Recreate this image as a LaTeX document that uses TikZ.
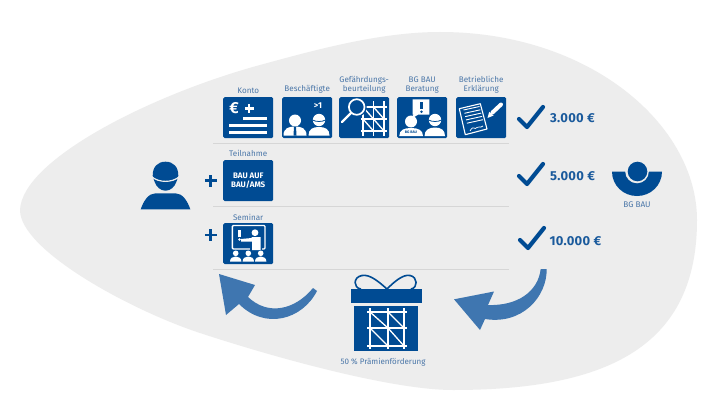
\documentclass[tikz,border=0pt]{standalone}
\usepackage{fontspec}
\setmainfont{Fira Sans}
\definecolor{bgblue}{HTML}{004B93}
\definecolor{arrowblue}{HTML}{3F76B0}
\definecolor{blobgrey}{HTML}{EDEDED}
\definecolor{rulegrey}{HTML}{D6D6D6}
\definecolor{labelblue}{HTML}{4A76A8}
\definecolor{amountblue}{HTML}{1A5A9C}
\tikzset{
  x=1pt,y=-1pt,
  iconbox/.style={fill=bgblue,draw=none,rounded corners=1.5pt,minimum width=50pt,minimum height=41pt,inner sep=0pt,anchor=north west},
  captext/.style={text=labelblue,font=\fontsize{8.1}{9.5}\selectfont,align=center,anchor=south,inner sep=0pt},
  amount/.style={text=amountblue,font=\fontsize{13}{15}\selectfont\bfseries\addfontfeature{LetterSpace=2},anchor=west,inner sep=0pt},
  plussign/.style={draw=bgblue,line width=2.6pt},
  seprule/.style={draw=rulegrey,line width=.7pt},
  wl/.style={draw=white,line width=1.3pt},
  chk/.style={draw=bgblue,line width=4.2pt,line cap=round,line join=round},
}
\newcommand{\chkmark}[2]{\draw[chk,shift={(#1,#2)}] (1,1) -- (9,9) -- (25,-11);}
\begin{document}
\begin{tikzpicture}
\useasboundingbox (0,0) rectangle (720,420);
\fill[white] (0,0) rectangle (720,420);
% background blob
\fill[blobgrey] (20,210)
  .. controls (22,160) and (150,95) .. (260,65)
  .. controls (315,50) and (380,32) .. (440,32)
  .. controls (590,32) and (697,125) .. (697,220)
  .. controls (697,345) and (610,390) .. (453,390)
  .. controls (390,390) and (270,356) .. (200,333)
  .. controls (130,310) and (20,250) .. (20,210) -- cycle;
% separators
\coordinate (s1a) at (213,143); \coordinate (s1b) at (509,143);
\coordinate (s2a) at (213,206); \coordinate (s2b) at (509,206);
\coordinate (s3a) at (213,269); \coordinate (s3b) at (509,269);
\draw[seprule] (s1a) -- (s1b);
\draw[seprule] (s2a) -- (s2b);
\draw[seprule] (s3a) -- (s3b);
% icon boxes
\node[iconbox] (konto) at (223,97) {};
\node[iconbox] (besch) at (282,97) {};
\node[iconbox] (gef) at (339,97) {};
\node[iconbox] (ber) at (397,97) {};
\node[iconbox] (erk) at (456,97) {};
\node[iconbox,align=center,text=white,font=\fontsize{8}{9.4}\selectfont\bfseries] (teil) at (223,160) {BAU AUF\\BAU/AMS};
\node[iconbox] (sem) at (223,223) {};
% captions
\node[captext] (c1) at (konto.north) [yshift=3.5pt] {Konto};
\node[captext] (c2) at (besch.north) [yshift=3.5pt] {Beschäftigte};
\node[captext] (c3) at (gef.north) [yshift=3.5pt] {Gefährdungs-\\beurteilung};
\node[captext] (c4) at (ber.north) [yshift=3.5pt] {BG BAU\\Beratung};
\node[captext] (c5) at (erk.north) [yshift=3.5pt] {Betriebliche\\Erklärung};
\node[captext] (c6) at (teil.north) [yshift=3pt] {Teilnahme};
\node[captext] (c7) at (sem.north) [yshift=2pt] {Seminar};
% Konto icon
\begin{scope}[shift={(223,97)}]
\node[text=white,font=\fontsize{16}{16}\selectfont\bfseries,inner sep=0pt] (euro) at (11,10.7) {€};
\draw[white,line width=2.2pt] (21.8,11.5) -- (30.8,11.5) (26.3,7) -- (26.3,16);
\fill[white] (19.7,20) rectangle (44.3,23.3);
\fill[white] (6.3,27) rectangle (44.3,30.3);
\fill[white] (6.3,34) rectangle (44.3,37.3);
\end{scope}
% Beschaeftigte icon
\begin{scope}[shift={(282,97)}]
\node[text=white,font=\fontsize{8.5}{8.5}\selectfont\bfseries,inner sep=0pt] (gt) at (36,8.5) {>1};
\fill[white] (13,23.5) circle (6);
\fill[white] (1.5,38.5) .. controls (1.5,31) and (7,29.5) .. (13,29.5) .. controls (19,29.5) and (24.5,31) .. (24.5,38.5) -- cycle;
\fill[bgblue] (12,29.5) -- (14,29.5) -- (14.5,38.5) -- (11.5,38.5) -- cycle;
\fill[white] (37,23) circle (6.2);
\draw[bgblue,line width=.8pt] (30.5,23) .. controls (34,25) and (40,25) .. (43.5,23);
\fill[white] (26.5,38.5) .. controls (26.5,32) and (31,30) .. (37,30) .. controls (43,30) and (47.5,32) .. (47.5,38.5) -- cycle;
\end{scope}
% Gefaehrdung icon
\begin{scope}[shift={(339,97)}]
\foreach \xx in {24,34.5,45} \draw[wl] (\xx,4) -- (\xx,38.5);
\foreach \yy in {10,22,34} \draw[wl] (22,\yy) -- (48,\yy);
\draw[wl] (24,22) -- (34.5,34) (34.5,22) -- (45,34) (24,10) -- (34.5,22) (34.5,10) -- (45,22);
\fill[bgblue] (17.7,10) circle (10);
\draw[white,line width=1.7pt] (17.7,10) circle (7.8);
\draw[white,line width=2.2pt,line cap=round] (12,16) -- (3,25);
\end{scope}
% Beratung icon
\begin{scope}[shift={(397,97)}]
\fill[white] (15.7,2.3) -- (32.3,2.3) -- (32.3,17.7) -- (21,17.7) -- (14,22) -- (16.5,17.7) -- (15.7,17.7) -- cycle;
\fill[bgblue] (23.2,5) rectangle (25.8,12);
\fill[bgblue] (24.5,14.8) circle (1.4);
\fill[white] (14,24.5) circle (6);
\fill[white] (2.3,39) .. controls (2.3,33) and (7,31) .. (14,31) .. controls (21,31) and (26,33) .. (26,39) -- cycle;
\node[text=bgblue,font=\fontsize{3.6}{3.6}\selectfont\bfseries,inner sep=0pt] (bgb) at (14,35.5) {BG BAU};
\fill[white] (38,23) circle (6.2);
\draw[bgblue,line width=.8pt] (31.5,23) .. controls (35,25) and (41,25) .. (44.5,23);
\fill[white] (27.5,39) .. controls (27.5,33) and (32,30.5) .. (38,30.5) .. controls (44,30.5) and (48,33) .. (48,39) -- cycle;
\end{scope}
% Erklaerung icon
\begin{scope}[shift={(456,97)}]
\draw[white,line width=1.1pt,line join=round] (3.3,11.7) -- (24.3,6.7) -- (31,32) -- (9.3,37.7) -- cycle;
\foreach \t in {0,1,2,3,4} \draw[white,line width=.9pt] ({7.5+\t*.85},{13+\t*3.3}) -- ({23.5+\t*.85},{9.5+\t*3.3});
\draw[white,line width=.7pt] (14,34) .. controls (18,27) and (18,34) .. (21,30.5) .. controls (23,28) and (23,32) .. (27,29);
\draw[white,line width=4pt,line cap=round] (36.5,15.5) -- (45,7.5);
\fill[white] (31.5,21) -- (33.2,14.8) -- (37.6,18.5) -- cycle;
\end{scope}
% Seminar icon
\begin{scope}[shift={(223,223)}]
\draw[white,line width=1.4pt,rounded corners=1pt] (9.3,2.5) rectangle (42,26);
\fill[white] (15.2,7) rectangle (17.6,13.5);
\fill[white] (16.4,16.5) circle (1.4);
\fill[bgblue] (27,12) rectangle (39,28);
\fill[white] (32,9.7) circle (3.4);
\fill[white] (28.7,14) -- (37.7,14) -- (37.7,27) -- (29,27) -- (29,18.5) -- (18,18.5) -- (18,16) -- (28.7,15) -- cycle;
\foreach \xx in {12.7,25.3,37.7} {
  \fill[white] (\xx,30.3) circle (2.8);
  \fill[white] ({\xx-5.7},38.7) .. controls ({\xx-5.7},35) and ({\xx-3},33.5) .. (\xx,33.5) .. controls ({\xx+3},33.5) and ({\xx+5.7},35) .. ({\xx+5.7},38.7) -- cycle;
}
\end{scope}
% worker
\begin{scope}[shift={(165.5,175)}]
\fill[bgblue] (-12.8,1) .. controls (-13,-8) and (-8,-13.3) .. (0,-13.3) .. controls (8,-13.3) and (13,-8) .. (12.8,1) .. controls (12.5,4) and (11,5) .. (10.8,7) .. controls (9,12) and (5,15.7) .. (0,15.7) .. controls (-5,15.7) and (-9,12) .. (-10.8,7) .. controls (-11,5) and (-12.5,4) .. (-12.8,1) -- cycle;
\draw[blobgrey,line width=1.2pt] (-14,1.5) .. controls (-7,8) and (7,8) .. (14,1.5);
\fill[bgblue] (-24.8,34.3) .. controls (-22,26) and (-17,18.3) .. (-10,18.3) -- (10,18.3) .. controls (17,18.3) and (22,26) .. (24.8,34.3) -- cycle;
\end{scope}
\coordinate (p1c) at (210.7,180.7);
\coordinate (p2c) at (210.7,235);
\draw[plussign] ([xshift=-5.8pt]p1c) -- ([xshift=5.8pt]p1c) ([yshift=-5.8pt]p1c) -- ([yshift=5.8pt]p1c);
\draw[plussign] ([xshift=-5.8pt]p2c) -- ([xshift=5.8pt]p2c) ([yshift=-5.8pt]p2c) -- ([yshift=5.8pt]p2c);
% check marks and amounts
\chkmark{518}{118}
\chkmark{518}{175}
\chkmark{519}{239}
\node[amount] (a1) at (550,118) {3.000 €};
\node[amount] (a2) at (550,176) {5.000 €};
\node[amount] (a3) at (549.5,241) {10.000 €};
% BG BAU logo
\begin{scope}[shift={(637,171.5)}]
\fill[bgblue] (-25,0) -- (25,0) .. controls (25,13.8) and (13.8,24.5) .. (0,24.5) .. controls (-13.8,24.5) and (-25,13.8) .. (-25,0) -- cycle;
\fill[blobgrey] (0,0) circle (11.8);
\fill[bgblue] (0.5,0) circle (9.8);
\end{scope}
\node[text=labelblue,font=\fontsize{8.2}{9}\selectfont,inner sep=0pt] (bglabel) at (637,205) {BG BAU};
% gift
\begin{scope}[shift={(350,274)}]
\fill[bgblue] (1,15) rectangle (72,29);
\fill[bgblue] (4,32) rectangle (68,77);
\draw[bgblue,line width=1.6pt] (37,15) .. controls (29,8) and (20,0) .. (12,1.5) .. controls (3,3) and (3,14) .. (11,15);
\draw[bgblue,line width=1.6pt] (37,15) .. controls (44,8) and (53,0) .. (60,1.5) .. controls (68,3) and (68,14) .. (61,15);
\foreach \xx in {20,38,54} \draw[white,line width=1.5pt] (\xx,34) -- (\xx,75);
\foreach \yy in {38,54,72} \draw[white,line width=1.5pt] (17,\yy) -- (57,\yy);
\draw[white,line width=1.3pt] (20,38) -- (38,54) (38,38) -- (54,54) (20,54) -- (38,72) (38,54) -- (54,72);
\end{scope}
\node[text=labelblue,font=\fontsize{8}{9}\selectfont,inner sep=0pt] (glabel) at (383,362) {50 \% Prämienförderung};
% curved arrows
\fill[arrowblue] (454,299.3) -- (494,291.5) -- (488,305)
  .. controls (517,306) and (538,292) .. (540.7,269)
  -- (546.7,269)
  .. controls (547,297) and (522,325) .. (485,319)
  -- (480,330) -- cycle;
\fill[arrowblue] (219,274) -- (255,285) -- (248,297)
  .. controls (268,316) and (295,310) .. (313,288)
  -- (317,291)
  .. controls (302,320) and (265,330) .. (239,304)
  -- (226,315) -- cycle;
\end{tikzpicture}
\end{document}
